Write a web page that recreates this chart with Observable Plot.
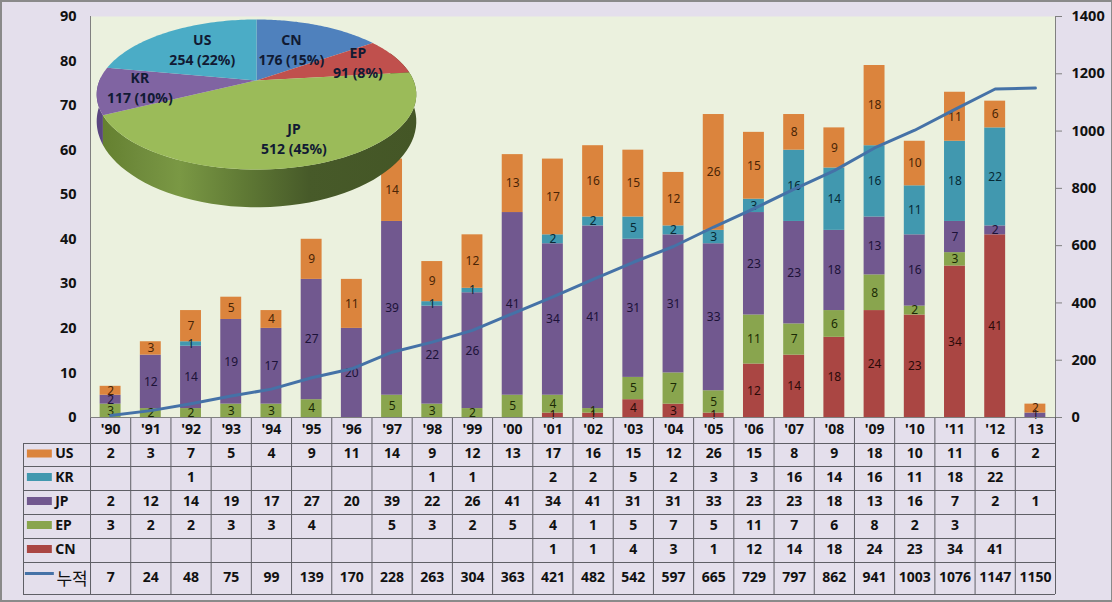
<!DOCTYPE html>
<html><head><meta charset="utf-8">
<script src="https://cdn.jsdelivr.net/npm/d3@7"></script>
<script src="https://cdn.jsdelivr.net/npm/@observablehq/plot@0.6"></script>
<style>
html,body{margin:0;padding:0;background:#E4DFEC}
#chart{position:relative;width:1112px;height:602px;background:#E4DFEC;overflow:hidden}
#chart svg{position:absolute;left:0;top:0;background:transparent;overflow:visible}
#frame{position:absolute;inset:0;border:1px solid #8a8a8a;border-width:2px 1px 2px 2px;box-sizing:border-box;pointer-events:none}
</style></head><body><div id="chart"><div id="frame"></div></div>
<script>
// ---- data ----
const years = ["'90","'91","'92","'93","'94","'95","'96","'97","'98","'99","'00","'01","'02","'03","'04","'05","'06","'07","'08","'09","'10","'11","'12","13"];
const US = [2,3,7,5,4,9,11,14,9,12,13,17,16,15,12,26,15,8,9,18,10,11,6,2];
const KR = [0,0,1,0,0,0,0,0,1,1,0,2,2,5,2,3,3,16,14,16,11,18,22,0];
const JP = [2,12,14,19,17,27,20,39,22,26,41,34,41,31,31,33,23,23,18,13,16,7,2,1];
const EP = [3,2,2,3,3,4,0,5,3,2,5,4,1,5,7,5,11,7,6,8,2,3,0,0];
const CN = [0,0,0,0,0,0,0,0,0,0,0,1,1,4,3,1,12,14,18,24,23,34,41,0];
const cumulative = [7,24,48,75,99,139,170,228,263,304,363,421,482,542,597,665,729,797,862,941,1003,1076,1147,1150];
const pieNames = ["CN","EP","JP","KR","US"];
const pieValues = [176,91,512,117,254];
const piePercents = ["15%","8%","45%","10%","22%"];

// ---- styles & layout ----
const font = "'Noto Sans','Open Sans',sans-serif";
const barColors = {CN:"#AA4643",EP:"#89A54E",JP:"#71588F",KR:"#4198AF",US:"#DB843D"};
const labelInk = {CN:"#2b0a08",EP:"#1b2a05",JP:"#1c1238",KR:"#062a36",US:"#4a2406"};
const pieColors = ["#4F81BD","#C0504D","#9BBB59","#8064A2","#4BACC6"];
const labelRadius = [0.48,0.69,0.85,0.75,0.54];
const W = 1112, H = 602;
const chartM = {marginLeft:90, marginRight:57, marginTop:16, marginBottom:185};
const seriesOrder = ["CN","EP","JP","KR","US"];
const seriesData = {CN,EP,JP,KR,US};
const rows = seriesOrder.flatMap(s => seriesData[s].map((v,i)=>({year:years[i],series:s,value:v}))).filter(d=>d.value>0);
const xScale = {domain:years, paddingInner:0.48, paddingOuter:0.24, round:false, axis:null};
const chart = document.getElementById("chart");

// bars
chart.appendChild(Plot.plot({
  width:W,height:H,...chartM,style:{fontFamily:font,background:"transparent"},
  x:xScale, y:{domain:[0,90]},
  color:{domain:seriesOrder,range:seriesOrder.map(s=>barColors[s])},
  marks:[
    Plot.frame({fill:"#EBF1DE",stroke:"none"}),
    Plot.barY(rows,Plot.stackY({x:"year",y:"value",z:"series",fill:"series"})),
    Plot.text(rows,Plot.stackY({x:"year",y:"value",z:"series",text:"value",fill:{value:d=>labelInk[d.series],scale:null},fontSize:12})),
    Plot.axisY({ticks:d3.range(0,91,10),tickSize:0,tickPadding:14,fontSize:14.5,fontWeight:"bold",fill:"#111",label:null}),
    Plot.frame({anchor:"left",stroke:"#808080"})
  ]
}));

// cumulative line with right axis
chart.appendChild(Plot.plot({
  width:W,height:H,...chartM,style:{fontFamily:font,background:"transparent"},
  x:xScale, y:{domain:[0,1400]},
  marks:[
    Plot.line(years.map((y,i)=>({year:y,total:cumulative[i]})),{x:"year",y:"total",stroke:"#4572A7",strokeWidth:3}),
    Plot.axisY({anchor:"right",ticks:d3.range(0,1401,200),tickFormat:d=>String(d),tickSize:6,tickPadding:10,stroke:"#808080",fontSize:14.5,fontWeight:"bold",fill:"#111",label:null}),
    Plot.frame({anchor:"right",stroke:"#808080"})
  ]
}));

// table
const rowEdges = [0,26,49,73,97,121,145,177];
const rowOf = i => (rowEdges[i]+rowEdges[i+1])/2;
const tableRows = [years,US,KR,JP,EP,CN,cumulative];
const legendLeft = -1.667;
const cells = tableRows.flatMap((r,ri)=>r.map((v,ci)=>({col:ci+0.5,row:rowOf(ri),text:v===0?"":String(v)}))).filter(d=>d.text);
const legend = ["US","KR","JP","EP","CN"].map((s,i)=>({name:s,row:rowOf(i+1),color:barColors[s]}));
chart.appendChild(Plot.plot({
  width:W,height:H,marginLeft:23,marginRight:57,marginTop:417,marginBottom:8,
  style:{fontFamily:font,background:"transparent"},
  x:{domain:[legendLeft,24],axis:null}, y:{domain:[177,0],axis:null},
  marks:[
    Plot.ruleX(d3.range(0,25),{y1:0,y2:177,stroke:"#5f5f66"}),
    Plot.ruleX([legendLeft],{y1:26,y2:177,stroke:"#5f5f66"}),
    Plot.ruleY(rowEdges.slice(1),{x1:legendLeft,x2:24,stroke:"#5f5f66"}),
    Plot.ruleY([0],{x1:0,x2:24,stroke:"#808080"}),
    Plot.text(cells,{x:"col",y:"row",text:"text",fontSize:14,fontWeight:"bold",fill:"#111",dy:-1}),
    Plot.rect(legend,{x1:-1.57,x2:-0.95,y1:d=>d.row-5,y2:d=>d.row+3,fill:"color"}),
    Plot.text(legend,{x:-0.88,y:d=>d.row-1,text:"name",textAnchor:"start",fontSize:14,fontWeight:"bold",fill:"#111"}),
    Plot.ruleY([rowOf(6)-5],{x1:-1.62,x2:-0.9,stroke:"#4572A7",strokeWidth:3}),
    Plot.text(["누적"],{x:-0.46,y:rowOf(6)+1,text:d=>d,fontSize:17,fill:"#111",fontFamily:"'Noto Sans CJK KR',sans-serif"})
  ]
}));

// 3D pie (perspective projection of the unit circle)
const total = d3.sum(pieValues);
const edges = Array.from(d3.cumsum([0,...pieValues]),v=>v/total*2*Math.PI);
const k = 0.1867, dropU = 0.345;
function proj(a,r=1,drop=0){
  const s = 1/(1+k*r*Math.cos(a));
  return {x:r*Math.sin(a)*s, y:r*Math.cos(a)*s - drop*s*s};
}
const arc = (a0,a1,drop=0)=>d3.range(0,61).map(i=>proj(a0+(a1-a0)*i/60,1,drop));
const topFace = i=>[{x:0,y:0},...arc(edges[i],edges[i+1]),{x:0,y:0}];
const wall = (a0,a1)=>[...arc(a0,a1),...arc(a1,a0,dropU)];
const gradient = ()=>{
  const g = document.createElementNS("http://www.w3.org/2000/svg","g");
  g.innerHTML=`<defs>
   <linearGradient id="wallJP" gradientUnits="userSpaceOnUse" x1="100" x2="416" y1="0" y2="0">
    <stop offset="0" stop-color="#64802f"/><stop offset="0.12" stop-color="#6f8b3c"/>
    <stop offset="0.25" stop-color="#7a9844"/><stop offset="0.45" stop-color="#607a35"/>
    <stop offset="0.66" stop-color="#475a29"/><stop offset="1" stop-color="#445626"/>
   </linearGradient></defs>`;
  return g;
};
const pieLabels = pieNames.map((n,i)=>{
  const mid = (edges[i]+edges[i+1])/2;
  const r = labelRadius[i];
  return {x:r*Math.sin(mid),y:r*Math.cos(mid),text:`${n}\n${pieValues[i]} (${piePercents[i]})`};
});
chart.appendChild(Plot.plot({
  width:W,height:H,marginLeft:99,marginRight:699,marginTop:7.6,marginBottom:449.6,
  style:{fontFamily:font,background:"transparent"},
  x:{domain:[-1,1],axis:null}, y:{domain:[-1,1],axis:null},
  marks:[
    gradient,
    Plot.line(wall(edges[3],edges[3]+0.5),{x:"x",y:"y",fill:"#5a4680",stroke:"none"}),
    Plot.line(wall(edges[2]-0.3,edges[3]),{x:"x",y:"y",fill:"url(#wallJP)",stroke:"none"}),
    ...pieValues.map((_,i)=>Plot.line(topFace(i),{x:"x",y:"y",fill:pieColors[i],stroke:"none"})),
    Plot.text(pieLabels,{x:"x",y:"y",text:"text",fontSize:14,fontWeight:"bold",lineHeight:1.43,fill:"#111a33",dy:-1.5})
  ]
}));
</script></body></html>
